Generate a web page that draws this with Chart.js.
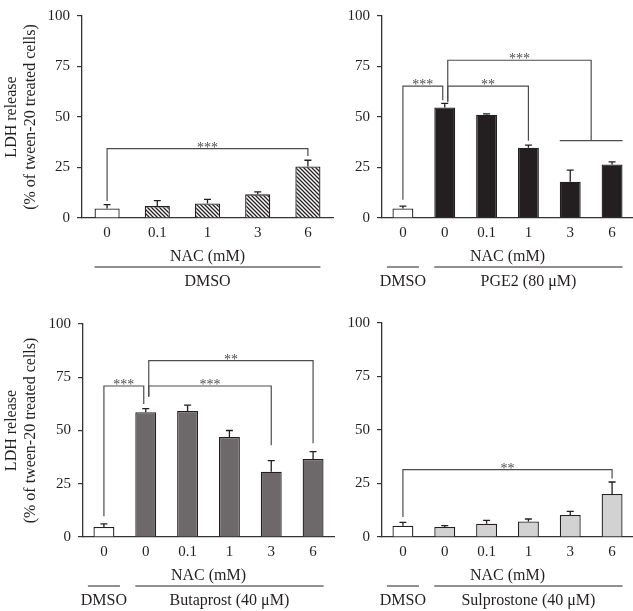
<!DOCTYPE html>
<html>
<head>
<meta charset="utf-8">
<script src="https://cdn.jsdelivr.net/npm/chart.js@4"></script>
<style>
  body { margin: 0; background: #fff; }
  #wrap { position: relative; width: 633px; height: 611px; }
  canvas { position: absolute; }
</style>
</head>
<body>
<div id="wrap">
  <canvas id="p1" style="left:0;top:0"></canvas>
  <canvas id="p2" style="left:340px;top:0"></canvas>
  <canvas id="p3" style="left:0;top:300px"></canvas>
  <canvas id="p4" style="left:340px;top:300px"></canvas>
</div>
<script>
// NAC doses (mM)
const nacDmso = ['0', '0.1', '1', '3', '6'];
const nacTreated = ['0', '0', '0.1', '1', '3', '6'];

// LDH release, % of tween-20 treated cells (mean, SD)
const dmsoMean = [4.7, 5.9, 7.2, 11.7, 25.5];
const dmsoErr = [1.9, 2.7, 2.0, 1.2, 3.1];
const pge2Mean = [4.7, 54.7, 51.1, 34.8, 18.0, 26.5];
const pge2Err = [1.2, 2.0, 0.4, 1.3, 5.7, 1.3];
const butaMean = [4.7, 58.6, 59.2, 47.0, 30.6, 36.6];
const butaErr = [1.5, 1.7, 2.7, 3.0, 5.3, 3.5];
const sulpMean = [5.3, 4.7, 6.2, 7.3, 10.3, 20.1];
const sulpErr = [1.5, 0.6, 1.6, 1.1, 1.7, 5.6];

const yTicks = [0, 25, 50, 75, 100];

// significance brackets (bar indices, values on the y scale)
const dmsoSig = [{ from: 0, to: 4, y: 34.3, dropFrom: 8.4, dropTo: 30.7, label: '***' }];
const pge2Sig = [
  { from: 0, to: 1, y: 65.3, dropFrom: 9, dropTo: 58.3, label: '***' },
  { from: 1, to: 3, y: 65.3, dropFrom: 57.5, dropTo: 38.3, label: '**' },
  { from: 1, to: [4, 5], y: 78.1, dropFrom: 57.5, dropTo: 38.3, label: '***' }
];
const butaSig = [
  { from: 0, to: 1, y: 70.9, dropFrom: 9.7, dropTo: 62.5, label: '***' },
  { from: 1, to: 4, y: 70.9, dropFrom: 65.8, dropTo: 43.1, label: '***' },
  { from: 1, to: 5, y: 82.8, dropFrom: 65.8, dropTo: 44, label: '**' }
];
const sulpSig = [{ from: 0, to: 5, y: 31.5, dropFrom: 9.3, dropTo: 27.3, label: '**' }];

// treatment groups under the x axis
const dmsoGroups = [{ from: 0, to: 4, label: 'DMSO' }];
const pge2Groups = [{ from: 0, to: 0, label: 'DMSO' }, { from: 1, to: 5, label: 'PGE2 (80 μM)' }];
const butaGroups = [{ from: 0, to: 0, label: 'DMSO' }, { from: 1, to: 5, label: 'Butaprost (40 μM)' }];
const sulpGroups = [{ from: 0, to: 0, label: 'DMSO' }, { from: 1, to: 5, label: 'Sulprostone (40 μM)' }];

const ink = '#231f20';
const lineGray = '#4d4d4d';
const serif = '"Liberation Serif", "DejaVu Serif", serif';

function hatch() {
  const c = document.createElement('canvas');
  c.width = 4; c.height = 4;
  const g = c.getContext('2d');
  g.fillStyle = '#fff';
  g.fillRect(0, 0, 4, 4);
  g.strokeStyle = ink;
  g.lineWidth = 1.3;
  g.beginPath();
  g.moveTo(-1, -1); g.lineTo(5, 5);
  g.moveTo(-1, 3); g.lineTo(1, 5);
  g.moveTo(3, -1); g.lineTo(5, 1);
  g.stroke();
  return g.createPattern(c, 'repeat');
}

function panel(id, labels, mean, err, fill, sig, groups, box) {
  const canvas = document.getElementById(id);
  canvas.width = box.w; canvas.height = box.h;
  canvas.style.width = box.w + 'px'; canvas.style.height = box.h + 'px';

  const colors = mean.map((v, i) => (i === 0 ? '#ffffff' : fill));

  const extras = {
    id: 'extras',
    afterDraw(chart) {
      const ctx = chart.ctx;
      const y = chart.scales.y;
      const area = chart.chartArea;
      const bars = chart.getDatasetMeta(0).data;
      ctx.save();

      // error bars (upper only)
      ctx.strokeStyle = ink;
      ctx.lineWidth = 1.3;
      bars.forEach((b, i) => {
        const yt = y.getPixelForValue(mean[i] + err[i]);
        ctx.beginPath();
        ctx.moveTo(b.x, b.y); ctx.lineTo(b.x, yt);
        ctx.moveTo(b.x - 3.5, yt); ctx.lineTo(b.x + 3.5, yt);
        ctx.stroke();
      });

      // significance brackets
      ctx.strokeStyle = lineGray;
      ctx.lineWidth = 1.2;
      ctx.fillStyle = lineGray;
      ctx.font = '14px ' + serif;
      ctx.textAlign = 'center';
      ctx.textBaseline = 'alphabetic';
      sig.forEach(k => {
        const yy = y.getPixelForValue(k.y);
        const ya = y.getPixelForValue(k.dropFrom);
        const yb = y.getPixelForValue(k.dropTo);
        let xa = bars[k.from].x;
        if (sig.some(o => o.to === k.from)) xa += 3;
        let xb;
        ctx.beginPath();
        if (Array.isArray(k.to)) {
          const a = bars[k.to[0]], z = bars[k.to[1]];
          xb = (a.x + z.x) / 2;
          ctx.moveTo(a.x - a.width / 2, yb);
          ctx.lineTo(z.x + z.width / 2, yb);
        } else {
          xb = bars[k.to].x;
          if (sig.some(o => o.from === k.to)) xb -= 2;
        }
        ctx.moveTo(xa, ya); ctx.lineTo(xa, yy); ctx.lineTo(xb, yy); ctx.lineTo(xb, yb);
        ctx.stroke();
        ctx.fillText(k.label, (xa + xb) / 2, yy + 3);
      });

      // x axis description and treatment groups
      ctx.fillStyle = ink;
      ctx.strokeStyle = ink;
      ctx.lineWidth = 1.2;
      ctx.font = '16px ' + serif;
      ctx.textBaseline = 'middle';
      ctx.fillText('NAC (mM)', (area.left + area.right) / 2, area.bottom + 39);
      groups.forEach(g => {
        let x0, x1;
        if (g.from === g.to) {
          x0 = bars[g.from].x - 16; x1 = bars[g.from].x + 16;
        } else {
          x0 = bars[g.from].x - bars[g.from].width / 2;
          x1 = bars[g.to].x + bars[g.to].width / 2;
        }
        ctx.beginPath();
        ctx.moveTo(x0, area.bottom + 49); ctx.lineTo(x1, area.bottom + 49);
        ctx.stroke();
        ctx.fillText(g.label, (x0 + x1) / 2, area.bottom + 64);
      });
      ctx.restore();
    }
  };

  return new Chart(canvas.getContext('2d'), {
    type: 'bar',
    data: {
      labels: labels,
      datasets: [{
        data: mean,
        backgroundColor: colors,
        borderColor: ink,
        borderWidth: 1.3,
        categoryPercentage: 1,
        barPercentage: 0.5
      }]
    },
    options: {
      responsive: false,
      animation: false,
      events: [],
      layout: { padding: { top: box.top, right: box.right, left: 0, bottom: 0 } },
      plugins: { legend: { display: false }, tooltip: { enabled: false } },
      scales: {
        x: {
          grid: { display: false, drawTicks: false },
          border: { display: true, color: '#333', width: 1.3 },
          ticks: { color: ink, font: { family: serif, size: 15 }, padding: 6, maxRotation: 0, autoSkip: false },
          afterFit: s => { s.height = box.xh; }
        },
        y: {
          min: 0,
          max: 100,
          afterBuildTicks: s => { s.ticks = yTicks.map(v => ({ value: v })); },
          grid: { display: true, drawOnChartArea: false, drawTicks: true, tickLength: 5, color: '#333', lineWidth: 1.2 },
          border: { display: true, color: '#333', width: 1.3 },
          ticks: { color: ink, font: { family: serif, size: 15 }, padding: 7 },
          title: {
            display: box.title,
            text: ['LDH release', '(% of tween-20 treated cells)'],
            color: ink,
            font: { family: serif, size: 16 },
            padding: { top: 2, bottom: 0 }
          },
          afterFit: s => { s.width = box.yw; }
        }
      }
    },
    plugins: [extras]
  });
}

panel('p1', nacDmso, dmsoMean, dmsoErr, hatch(), dmsoSig, dmsoGroups,
  { w: 340, h: 300, top: 5, right: 7, yw: 82, xh: 82, title: true });
panel('p2', nacTreated, pge2Mean, pge2Err, '#231f20', pge2Sig, pge2Groups,
  { w: 293, h: 300, top: 5, right: 0, yw: 42, xh: 82, title: false });
panel('p3', nacTreated, butaMean, butaErr, '#6d6869', butaSig, butaGroups,
  { w: 340, h: 311, top: 24, right: 6, yw: 83, xh: 74, title: true });
panel('p4', nacTreated, sulpMean, sulpErr, '#d2d2d2', sulpSig, sulpGroups,
  { w: 293, h: 311, top: 23, right: 0, yw: 42, xh: 74, title: false });
</script>
</body>
</html>
